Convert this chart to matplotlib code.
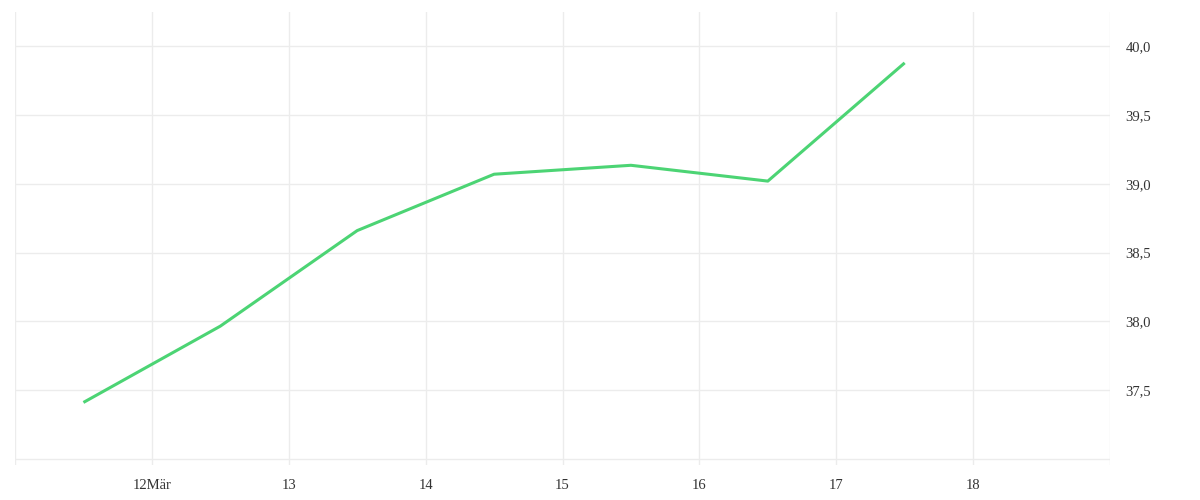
import matplotlib
matplotlib.use("Agg")
import matplotlib.pyplot as plt
from matplotlib.ticker import FixedLocator, FuncFormatter

# daily values, plotted at mid-day
days = [11.5, 12.5, 13.5, 14.5, 15.5, 16.5, 17.5]
values = [37.41, 37.965, 38.66, 39.07, 39.135, 39.02, 39.88]

x_ticks = [12, 13, 14, 15, 16, 17, 18]
x_labels = ["12Mär", "13", "14", "15", "16", "17", "18"]
y_ticks = [37.5, 38.0, 38.5, 39.0, 39.5, 40.0]

plt.rcParams['font.family'] = ['Liberation Serif', 'DejaVu Serif']

fig = plt.figure(figsize=(12, 5), dpi=100)
ax = fig.add_axes([0.0125, 0.07, 0.9125, 0.906])

grid_col = '#ececec'
# vertical grid incl. the outer edges
for xv in range(11, 20):
    ax.axvline(xv, color=grid_col, lw=1, zorder=0)
for yv in [37.0] + y_ticks:
    ax.axhline(yv, color=grid_col, lw=1, zorder=0)

ax.plot(days, values, color='#4cd474', lw=2.2, solid_capstyle='butt', zorder=3)

ax.set_xlim(11, 19)
ax.set_ylim(36.955, 40.25)

ax.xaxis.set_major_locator(FixedLocator(x_ticks))
ax.set_xticklabels(x_labels)
ax.yaxis.set_major_locator(FixedLocator(y_ticks))
ax.yaxis.set_major_formatter(FuncFormatter(lambda v, p: f"{v:.1f}".replace('.', ',')))
ax.yaxis.tick_right()

ax.tick_params(axis='both', length=0, labelsize=10.5, colors='#333333')
ax.tick_params(axis='x', pad=10)
ax.tick_params(axis='y', pad=11)

for s in ax.spines.values():
    s.set_visible(False)

fig.savefig('out.png', dpi=100)
